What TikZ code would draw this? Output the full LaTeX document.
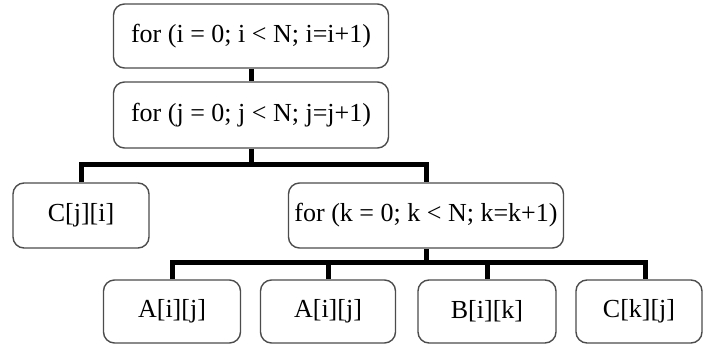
\documentclass[tikz,border=0pt]{standalone}
\usepackage{fontspec}
\setmainfont{Liberation Serif}
\usetikzlibrary{backgrounds}
\begin{document}
\begin{tikzpicture}[x=1pt,y=-1pt,
  box/.style={draw=black!70, line width=1.4pt, rounded corners=11pt, fill=white,
    inner sep=0pt, font=\fontsize{26}{30}\selectfont, text=black},
  conn/.style={draw=black, line width=5pt, line join=miter}]
\useasboundingbox (0,0) rectangle (704,347);
% nodes
\node[box, minimum width=275pt, minimum height=64pt] (b1) at (251,36) {for (i = 0; i < N; i=i+1)};
\node[box, minimum width=275pt, minimum height=66pt] (b2) at (251,115) {for (j = 0; j < N; j=j+1)};
\node[box, minimum width=136pt, minimum height=65pt] (cji) at (81,215.5) {C[j][i]};
\node[box, minimum width=275pt, minimum height=65pt] (fk) at (426,215.5) {for (k = 0; k < N; k=k+1)};
\node[box, minimum width=137pt, minimum height=63pt] (a1) at (172,311.5) {A[i][j]};
\node[box, minimum width=135pt, minimum height=63pt] (a2) at (328,311.5) {A[i][j]};
\node[box, minimum width=138pt, minimum height=63pt] (bik) at (487,311.5) {B[i][k]};
\node[box, minimum width=126pt, minimum height=63pt] (ckj) at (639,311.5) {C[k][j]};
\coordinate (j1) at (251,165);
\coordinate (j2) at (426,263);
% connectors behind the boxes
\begin{scope}[on background layer]
\fill[white] (0,0) rectangle (704,347);
\draw[conn] (b1.south) -- (b2.north);
\draw[conn] (b2.south) -- (j1);
\draw[conn] (cji.north) |- (j1) -| (fk.north);
\draw[conn] (fk.south) -- (j2);
\draw[conn] (a1.north) |- (j2) -| ([xshift=6pt]ckj.north);
\draw[conn] (a2.north) -- (a2.north |- j2);
\draw[conn] (bik.north) -- (bik.north |- j2);
\end{scope}
\end{tikzpicture}
\end{document}
